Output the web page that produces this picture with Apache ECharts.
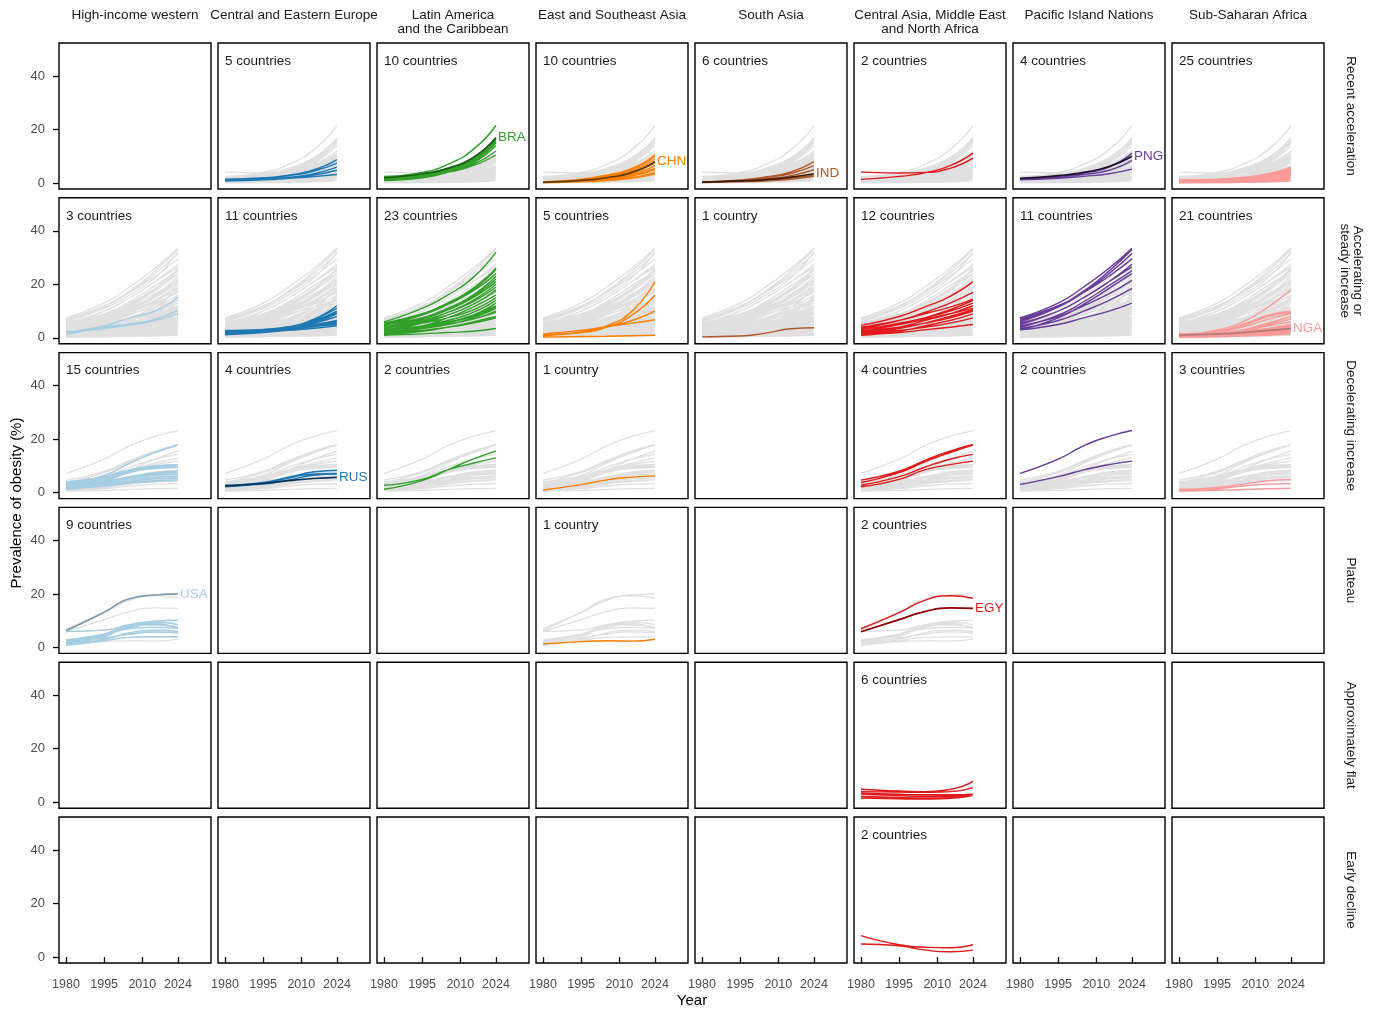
<!DOCTYPE html>
<html>
<head>
<meta charset="utf-8">
<script src="https://cdn.jsdelivr.net/npm/echarts@6/dist/echarts.min.js"></script>
<style>html,body{margin:0;background:#fff}#show{width:1375px;height:1013px}</style>
</head>
<body>
<div id="show"></div>
<script>
var myChart = echarts.init(document.getElementById("show"));

var YEARS = [1980, 1995, 2005, 2015, 2024];
var TICK_YEARS = [1980, 1995, 2010, 2024];
var TICK_VALUES = [0, 20, 40];

var regions = ['High-income western', 'Central and Eastern Europe', 'Latin America\nand the Caribbean',
    'East and Southeast Asia', 'South Asia', 'Central Asia, Middle East\nand North Africa',
    'Pacific Island Nations', 'Sub-Saharan Africa'];
var regionColors = ['#a6cee3', '#1f78b4', '#33a02c', '#ff7f00', '#b15928', '#e31a1c', '#6a3d9a', '#fb9a99'];
var patterns = ['Recent acceleration', 'Accelerating or\nsteady increase', 'Decelerating increase',
    'Plateau', 'Approximately flat', 'Early decline'];

// highlighted countries
var BRA = [2.0, 3.5, 5.5, 9.5, 17.0];
var CHN = [0.3, 1.0, 2.0, 4.0, 8.0];
var IND = [0.4, 0.8, 1.3, 2.2, 3.5];
var PNG = [1.8, 2.8, 4.0, 6.2, 10.0];
var NGA = [1.0, 1.5, 2.0, 2.8, 3.5];
var RUS = [2.5, 3.5, 4.5, 5.3, 5.7];
var USA = [6.3, 13.2, 18.2, 19.6, 20.0];
var EGY = [5.9, 10.4, 13.4, 14.8, 14.6];

// Recent acceleration
var accelCEE = [[1.5,2.0,3.0,5.0,8.8],[1.0,1.8,2.8,4.5,7.5],[1.2,1.5,2.2,3.5,6.0],[0.8,1.2,1.8,3.0,4.8],[1.0,1.3,1.8,2.4,3.2]];
var accelLAC = [[2.5,4.0,7.0,12.5,21.5],[1.5,3.0,5.0,9.0,16.5],[1.8,3.2,5.5,9.5,16.0],[1.2,2.5,4.5,8.5,15.5],[2.2,3.0,4.5,8.0,15.0],
    [1.0,2.0,4.0,7.5,14.0],[1.5,2.5,4.0,7.0,12.0],[1.5,2.5,4.0,6.5,10.5],[1.8,3.0,5.0,9.0,16.8]];
var accelESA = [[0.5,1.5,3.0,5.5,10.5],[0.4,1.2,2.5,5.0,10.0],[0.3,1.0,2.2,4.5,9.0],[0.2,0.8,1.8,3.8,7.5],[0.3,0.8,1.5,3.2,6.5],
    [0.2,0.6,1.3,2.8,5.5],[0.4,0.8,1.5,2.6,5.0],[0.2,0.5,1.0,2.0,4.0],[0.3,0.6,1.0,1.8,3.5]];
var accelSA = [[0.5,1.2,2.3,4.2,8.0],[0.4,1.0,2.0,3.6,6.5],[0.3,0.8,1.5,2.8,5.0],[0.3,0.6,1.0,1.8,3.0],[0.2,0.5,0.8,1.4,2.5]];
var accelCAMENA = [[4.1,3.8,4.0,5.5,9.3],[1.4,2.5,3.8,6.5,11.2]];
var accelPIN = [[1.5,2.5,3.8,6.0,11.2],[1.5,2.3,3.2,4.8,8.5],[1.2,1.8,2.5,3.5,5.2]];
var accelSSA = [[1.2,1.5,2.2,3.5,6.0],[0.8,1.3,2.0,3.3,5.8],[1.0,1.4,2.0,3.2,5.5],[0.6,1.0,1.7,2.9,5.2],[0.9,1.2,1.8,2.8,5.0],
    [0.5,0.9,1.5,2.6,4.8],[1.3,1.5,1.9,2.7,4.5],[0.7,1.0,1.5,2.4,4.2],[0.4,0.8,1.3,2.2,4.0],[1.0,1.2,1.6,2.3,3.8],
    [0.6,0.9,1.3,2.1,3.6],[0.3,0.6,1.1,1.9,3.4],[0.8,1.0,1.3,1.9,3.2],[0.5,0.7,1.0,1.7,3.0],[0.3,0.5,0.9,1.5,2.8],
    [0.7,0.9,1.1,1.6,2.6],[0.4,0.6,0.9,1.4,2.4],[0.2,0.4,0.7,1.2,2.2],[0.5,0.6,0.8,1.2,2.0],[0.3,0.4,0.6,1.0,1.8],
    [0.2,0.3,0.5,0.9,1.6],[0.4,0.5,0.6,0.9,1.4],[0.2,0.3,0.4,0.7,1.2],[0.3,0.3,0.4,0.6,1.0],[0.1,0.2,0.3,0.5,0.8]];

// Accelerating or steady increase
var steadyHIW = [[2.2,4.5,7.5,10.0,15.3],[1.2,4.0,5.2,7.0,10.3],[2.0,3.5,4.8,6.5,9.0]];
var steadyCEE = [[2.5,3.0,4.0,7.0,12.0],[2.0,2.8,4.0,7.0,11.0],[2.2,3.2,4.2,6.5,10.0],[1.8,2.6,3.8,6.0,9.5],[2.0,2.5,3.5,5.8,9.0],
    [1.5,2.5,3.5,5.5,8.0],[2.8,3.2,4.0,5.0,6.5],[2.0,2.8,3.6,4.8,6.0],[1.5,2.4,3.2,4.4,5.5],[2.4,2.8,3.4,4.2,5.0],[1.2,2.0,2.8,3.6,4.5]];
var steadyLAC = [[6.0,11.0,16.0,22.5,32.0],[5.0,9.0,13.0,18.5,26.0],[4.5,8.5,12.5,18.0,25.5],[5.5,9.0,12.5,17.5,24.0],
    [4.0,7.5,11.0,16.0,23.0],[3.5,7.0,10.5,15.5,22.0],[4.8,7.5,10.5,15.0,21.0],[3.0,6.0,9.5,14.0,20.0],[4.2,6.5,9.5,13.5,19.0],
    [2.5,5.5,8.5,12.5,18.0],[3.8,6.0,8.5,12.5,17.5],[2.0,4.5,7.5,11.5,16.0],[3.2,5.5,7.5,10.5,15.0],[2.8,4.5,6.5,9.5,14.0],
    [1.5,3.5,5.5,8.5,13.0],[2.2,4.0,5.8,8.5,12.0],[3.0,4.5,6.0,8.0,11.5],[1.8,3.5,5.0,7.5,11.0],[2.5,3.8,5.2,7.0,10.0],
    [1.2,2.5,4.0,6.0,8.0],[1.6,2.8,4.0,5.5,7.5],[1.0,1.5,2.0,2.5,3.5],[2.0,3.5,5.0,7.0,9.5]];
var steadyESA = [[1.0,2.0,4.5,10.0,21.0],[1.2,2.0,4.0,8.5,16.0],[0.8,2.2,4.0,6.5,10.0],[1.5,2.8,4.2,5.5,6.8],[0.3,0.5,0.6,0.8,1.0]];
var steadySA = [[0.4,0.7,1.8,3.4,3.8]];
var steadyCAMENA = [[4.7,8.0,11.5,15.5,21.0],[3.5,6.5,9.5,13.0,17.0],[4.0,6.5,9.0,11.5,14.5],[2.5,5.0,7.5,10.5,14.0],
    [3.0,5.5,7.5,10.0,13.0],[2.0,4.0,6.5,9.0,12.0],[3.5,5.0,7.0,9.0,11.0],[1.5,3.5,5.5,8.0,10.5],[2.5,4.0,5.5,7.5,10.0],
    [1.0,2.5,4.5,6.5,9.0],[1.5,2.8,4.0,5.5,7.5],[1.2,2.0,3.0,4.0,5.0]];
var steadyPIN = [[7.5,13.0,19.0,26.0,33.5],[6.5,12.0,17.5,25.0,33.0],[6.0,11.5,17.0,24.0,31.5],[7.0,12.0,17.0,23.0,29.5],
    [5.0,10.0,15.0,21.0,27.5],[5.5,10.0,15.0,21.0,26.5],[4.0,8.5,13.5,19.5,25.0],[3.0,7.5,12.5,18.5,24.0],[4.5,8.0,12.0,16.5,21.5],
    [3.5,6.5,10.0,14.0,18.5],[3.0,5.0,7.5,10.0,13.0]];
var steadySSA = [[1.0,3.0,6.0,11.5,18.0],[1.5,2.5,5.0,8.5,10.0],[0.8,2.0,4.5,8.0,9.5],[1.2,2.2,4.0,7.0,9.0],[0.5,1.5,3.0,5.5,8.0],
    [1.0,1.8,3.0,5.0,7.0],[0.6,1.2,2.5,4.5,6.0],[0.4,1.0,2.0,3.5,5.0],[1.3,1.8,2.5,3.5,4.5],[0.8,1.2,2.0,3.0,4.2],
    [0.5,1.0,1.8,2.8,4.0],[1.0,1.4,2.0,2.8,3.8],[0.3,0.8,1.5,2.5,3.5],[0.7,1.0,1.5,2.2,3.2],[0.4,0.8,1.3,2.0,3.0],
    [0.9,1.1,1.5,2.0,2.8],[0.3,0.6,1.0,1.6,2.5],[0.6,0.8,1.1,1.5,2.2],[0.2,0.4,0.8,1.2,2.0],[0.4,0.5,0.7,1.0,1.5]];

// Decelerating increase
var decelHIW = [[3.5,6.5,11.0,15.0,17.8],[3.0,5.5,8.5,10.0,10.5],[2.5,5.0,8.0,9.8,10.2],[3.5,6.0,8.5,9.5,10.0],[2.0,4.5,7.5,9.5,10.5],
    [4.0,6.0,8.0,9.0,9.5],[2.0,4.0,6.0,7.5,8.0],[2.5,4.0,5.8,7.2,7.8],[1.5,3.5,5.5,7.0,7.5],[3.0,4.5,5.5,6.5,7.0],
    [2.0,3.5,4.8,5.8,6.2],[1.5,3.0,4.2,5.2,5.5],[3.0,4.0,4.8,5.2,5.5],[1.2,2.5,3.5,4.2,4.5],[2.0,3.0,3.8,4.5,4.8]];
var decelCEE = [[2.8,3.8,5.8,7.8,8.4],[2.2,3.5,5.5,7.0,7.2],[2.5,3.2,4.8,6.5,7.0]];
var decelLAC = [[1.3,4.5,8.5,12.5,15.5],[2.8,5.0,8.5,11.0,13.0]];
var decelESA = [[1.0,3.0,4.8,5.8,6.3]];
var decelCAMENA = [[4.7,8.0,12.0,15.5,18.0],[3.8,7.5,11.5,15.0,17.8],[2.8,6.0,9.5,12.5,14.3],[2.2,5.0,8.5,10.5,11.8]];
var decelPIN = [[7.2,12.5,17.5,21.0,23.2],[3.1,6.0,8.5,10.5,11.8]];
var decelSSA = [[1.2,2.0,3.2,4.5,4.9],[0.8,1.5,2.5,3.2,3.4],[0.6,0.9,1.2,1.5,1.6]];

// Plateau
var plateauHIW = [[6.0,6.5,8.5,9.8,10.2],[2.5,5.0,8.5,9.5,8.5],[2.0,4.5,7.5,8.5,7.5],[1.5,4.0,8.0,9.0,7.0],
    [2.8,5.0,7.0,7.5,7.2],[1.0,3.0,5.5,6.5,6.0],[1.8,3.5,5.0,5.8,5.5],[0.8,2.5,3.8,4.0,4.0]];
var plateauESA = [[1.3,2.2,2.5,2.4,3.1]];
var plateauCAMENA = [[7.0,13.0,17.6,19.3,18.4]];

// Approximately flat
var flatCAMENA = [[4.9,4.2,4.0,4.8,7.8],[4.0,3.8,3.7,4.0,5.5],[3.0,2.5,2.2,2.3,2.8],[2.2,1.8,1.6,1.8,2.6],[1.6,1.3,1.2,1.5,2.5],[3.4,3.0,2.8,2.8,3.0]];

// Early decline
var declineCAMENA = [[8.0,4.6,3.7,3.5,4.6],[4.9,4.2,2.7,2.0,2.6]];

// [pattern row, region column, lines, highlighted country]
var cells = [
    [0, 1, accelCEE, null], [0, 2, accelLAC, 'BRA'], [0, 3, accelESA, 'CHN'], [0, 4, accelSA, 'IND'],
    [0, 5, accelCAMENA, null], [0, 6, accelPIN, 'PNG'], [0, 7, accelSSA, null],
    [1, 0, steadyHIW, null], [1, 1, steadyCEE, null], [1, 2, steadyLAC, null], [1, 3, steadyESA, null],
    [1, 4, steadySA, null], [1, 5, steadyCAMENA, null], [1, 6, steadyPIN, null], [1, 7, steadySSA, 'NGA'],
    [2, 0, decelHIW, null], [2, 1, decelCEE, 'RUS'], [2, 2, decelLAC, null], [2, 3, decelESA, null],
    [2, 5, decelCAMENA, null], [2, 6, decelPIN, null], [2, 7, decelSSA, null],
    [3, 0, plateauHIW, 'USA'], [3, 3, plateauESA, null], [3, 5, plateauCAMENA, 'EGY'],
    [4, 5, flatCAMENA, null],
    [5, 5, declineCAMENA, null]
];
var highlightValues = { BRA: BRA, CHN: CHN, IND: IND, PNG: PNG, NGA: NGA, RUS: RUS, USA: USA, EGY: EGY };
var highlightLine = { BRA: '#1a5c14', CHN: '#5c3a00', IND: '#3b1a05', PNG: '#1c0f2a', NGA: '#b07a7a', RUS: '#0c3558', USA: '#7d9cb0', EGY: '#8b0000' };

// layout
var GL = 59, GT = 43, DX = 159, DY = 154.8, GW = 152, GH = 146;
var FONT = 'Liberation Sans, Arial, sans-serif';
var SMOOTH = 0.55;

function toPoints(lines) {
    var out = [];
    lines.forEach(function (l, i) {
        if (i) out.push(['-', '-']);
        l.forEach(function (v, j) { out.push([YEARS[j], v]); });
    });
    return out;
}

var grids = [], xAxes = [], yAxes = [], series = [], graphics = [];
for (var r = 0; r < 6; r++) {
    for (var c = 0; c < 8; c++) {
        var gi = r * 8 + c;
        grids.push({
            left: GL + c * DX, top: GT + r * DY, width: GW, height: GH,
            show: true, borderColor: '#000', borderWidth: 1.4, backgroundColor: '#fff'
        });
        xAxes.push({
            gridIndex: gi, type: 'value', min: 1977.25, max: 2037,
            axisLine: { show: false }, splitLine: { show: false },
            axisTick: { show: r === 5, customValues: TICK_YEARS, length: 6, lineStyle: { color: '#000', width: 1.3 } },
            axisLabel: { show: r === 5, customValues: TICK_YEARS, color: '#4d4d4d', fontSize: 12.5, margin: 15,
                fontFamily: FONT, formatter: function (v) { return String(v); } }
        });
        yAxes.push({
            gridIndex: gi, type: 'value', min: -2.2, max: 52.3,
            axisLine: { show: false }, splitLine: { show: false },
            axisTick: { show: c === 0, customValues: TICK_VALUES, length: 6, lineStyle: { color: '#000', width: 1.3 } },
            axisLabel: { show: c === 0, customValues: TICK_VALUES, color: '#4d4d4d', fontSize: 13, margin: 14, fontFamily: FONT }
        });
    }
}

// grey background = every country of that pattern
var rowLines = [[], [], [], [], [], []];
cells.forEach(function (cell) {
    rowLines[cell[0]] = rowLines[cell[0]].concat(cell[2]);
    if (cell[3]) rowLines[cell[0]].push(highlightValues[cell[3]]);
});

cells.forEach(function (cell) {
    var r = cell[0], c = cell[1], gi = r * 8 + c;
    series.push({
        type: 'line', xAxisIndex: gi, yAxisIndex: gi, data: toPoints(rowLines[r]),
        smooth: SMOOTH, showSymbol: false, silent: true, z: 1,
        lineStyle: { color: '#e0e0e0', width: 1.3 }
    });
    series.push({
        type: 'line', xAxisIndex: gi, yAxisIndex: gi, data: toPoints(cell[2]),
        smooth: SMOOTH, showSymbol: false, silent: true, z: 2,
        lineStyle: { color: regionColors[c], width: 1.4 }
    });
    if (cell[3]) {
        var code = cell[3];
        series.push({
            type: 'line', xAxisIndex: gi, yAxisIndex: gi, data: toPoints([highlightValues[code]]),
            smooth: SMOOTH, showSymbol: false, silent: true, z: 3,
            lineStyle: { color: highlightLine[code], width: 1.7 },
            endLabel: { show: true, formatter: code, color: regionColors[c], fontSize: 13.5, distance: 2, fontFamily: FONT }
        });
    }
    var n = cell[2].length + (cell[3] ? 1 : 0);
    graphics.push({
        type: 'text', left: GL + c * DX + 7, top: GT + r * DY + 11,
        style: { text: n + (n === 1 ? ' country' : ' countries'), fill: '#1a1a1a', font: '13.5px ' + FONT }
    });
});

regions.forEach(function (name, c) {
    graphics.push({
        type: 'text', x: GL + c * DX + GW / 2, y: 8,
        style: { text: name, fill: '#1a1a1a', font: '13.5px ' + FONT, align: 'center', verticalAlign: 'top', lineHeight: 14 }
    });
});
patterns.forEach(function (name, r) {
    graphics.push({
        type: 'text', x: 1351, y: GT + r * DY + GH / 2, rotation: -Math.PI / 2,
        style: { text: name, fill: '#1a1a1a', font: '13.5px ' + FONT, align: 'center', verticalAlign: 'middle', lineHeight: 13 }
    });
});
graphics.push({
    type: 'text', x: 17, y: 503, rotation: Math.PI / 2,
    style: { text: 'Prevalence of obesity (%)', fill: '#000', font: '15px ' + FONT, align: 'center', verticalAlign: 'middle' }
});
graphics.push({
    type: 'text', x: 692, y: 1001,
    style: { text: 'Year', fill: '#000', font: '15px ' + FONT, align: 'center', verticalAlign: 'middle' }
});

myChart.setOption({
    animation: false,
    textStyle: { fontFamily: FONT },
    grid: grids,
    xAxis: xAxes,
    yAxis: yAxes,
    series: series,
    graphic: graphics
});
</script>
</body>
</html>
